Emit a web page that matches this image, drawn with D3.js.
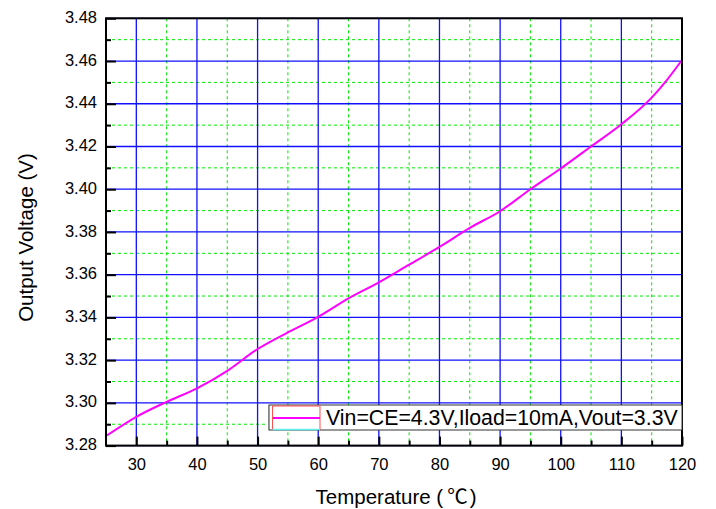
<!DOCTYPE html>
<html><head><meta charset="utf-8">
<script src="https://cdn.jsdelivr.net/npm/d3@7"></script>
<style>
body{margin:0;background:#fff;}
text{font-family:"Liberation Sans",Arial,"Noto Sans CJK SC",sans-serif;fill:#000;}
</style></head>
<body><svg id="c" width="716" height="509"></svg>
<script>
const temps = [25,30,35,40,45,50,55,60,65,70,75,80,85,90,95,100,105,110,115,117.5,120];
const vout  = [3.2845,3.2935,3.3005,3.3068,3.3150,3.3252,3.3330,3.3403,3.3489,3.3564,3.3647,3.3730,3.3819,3.3897,3.4000,3.4097,3.4200,3.4304,3.4429,3.4511,3.4605];
const xMajor = [30,40,50,60,70,80,90,100,110,120];
const xMinor = [35,45,55,65,75,85,95,105,115];
const yMajor = [3.28,3.30,3.32,3.34,3.36,3.38,3.40,3.42,3.44,3.46,3.48];
const yMinor = [3.29,3.31,3.33,3.35,3.37,3.39,3.41,3.43,3.45,3.47];
const legendLabel = "Vin=CE=4.3V,Iload=10mA,Vout=3.3V";
const xTitleMain = "Temperature (";
const xTitleUnit = "\u2103";
const xTitleEnd = ")";
const yTitle = "Output Voltage (V)";

const L=106, R=682, T=18.3, B=445.6;
const svg = d3.select("#c");
const x = d3.scaleLinear().domain([25,120]).range([L,R]);
const y = d3.scaleLinear().domain([3.28,3.48]).range([B,T]);

// minor grid
const g = svg.append("g");
g.selectAll(".vm").data(xMinor).join("line")
  .attr("x1",d=>x(d)).attr("x2",d=>x(d)).attr("y1",T).attr("y2",B)
  .attr("stroke","#00e800").attr("stroke-width",1).attr("stroke-dasharray","3,3");
g.selectAll(".hm").data(yMinor).join("line")
  .attr("y1",d=>y(d)).attr("y2",d=>y(d)).attr("x1",L).attr("x2",R)
  .attr("stroke","#00e800").attr("stroke-width",1).attr("stroke-dasharray","3,3");
// major grid
g.selectAll(".vM").data(xMajor).join("line")
  .attr("x1",d=>x(d)).attr("x2",d=>x(d)).attr("y1",T).attr("y2",B)
  .attr("stroke","#1010ff").attr("stroke-width",1.3);
g.selectAll(".hM").data(yMajor).join("line")
  .attr("y1",d=>y(d)).attr("y2",d=>y(d)).attr("x1",L).attr("x2",R)
  .attr("stroke","#1010ff").attr("stroke-width",1.3);

// curve
const line = d3.line().x((d,i)=>x(temps[i])).y(d=>y(d)).curve(d3.curveMonotoneX);
svg.append("path").datum(vout).attr("d",line)
  .attr("fill","none").attr("stroke","#ff00ff").attr("stroke-width",2);

// axes
const yAx = svg.append("g").attr("transform",`translate(${L},0)`)
  .call(d3.axisLeft(y).tickValues(yMajor).tickSize(-10).tickPadding(9).tickFormat(d3.format(".2f")));
const yAxm = svg.append("g").attr("transform",`translate(${L},0)`)
  .call(d3.axisLeft(y).tickValues(yMinor).tickSize(-5).tickFormat(""));
const xAx = svg.append("g").attr("transform",`translate(0,${B})`)
  .call(d3.axisBottom(x).tickValues(xMajor).tickSize(-9).tickPadding(12.5));
const xAxm = svg.append("g").attr("transform",`translate(0,${B})`)
  .call(d3.axisBottom(x).tickValues(xMinor).tickSize(-5).tickFormat(""));
[yAx,yAxm,xAx,xAxm].forEach(a=>{
  a.select(".domain").remove();
  a.selectAll(".tick line").attr("stroke","#000").attr("stroke-width",2);
  a.selectAll(".tick text").attr("font-size","16.5px").attr("font-family",null);
});
yAx.selectAll(".tick text").attr("dy","0.25em");

// frame
svg.append("rect").attr("x",L).attr("y",T).attr("width",R-L).attr("height",B-T)
  .attr("fill","none").attr("stroke","#000").attr("stroke-width",2);

// legend
const lg = svg.append("g");
lg.append("rect").attr("x",269).attr("y",405).attr("width",682-269).attr("height",25)
  .attr("fill","#fff").attr("stroke","#333").attr("stroke-width",1);
lg.append("line").attr("x1",268.5).attr("x2",268.5).attr("y1",405).attr("y2",430).attr("stroke","#888").attr("stroke-width",1);
lg.append("rect").attr("x",272.5).attr("y",406).attr("width",47.5).attr("height",23.5)
  .attr("fill","none").attr("stroke","#ff5050").attr("stroke-width",1);
lg.append("line").attr("x1",272.5).attr("x2",320).attr("y1",429.5).attr("y2",429.5)
  .attr("stroke","#60f0f0").attr("stroke-width",1.5);
lg.append("line").attr("x1",273).attr("x2",320).attr("y1",418).attr("y2",418)
  .attr("stroke","#ff00ff").attr("stroke-width",2);
lg.append("text").attr("x",326).attr("y",425.3).attr("font-size","21.3px").text(legendLabel);

// titles
const xt = svg.append("text").attr("x",396).attr("y",504).attr("text-anchor","middle")
  .attr("font-size","20.5px");
xt.append("tspan").text(xTitleMain);
xt.append("tspan").attr("dx",4).style("font-family","'Noto Sans CJK SC'").text(xTitleUnit);
xt.append("tspan").attr("dx",2).text(xTitleEnd);
svg.append("text").attr("transform","translate(33,237.5) rotate(-90)").attr("text-anchor","middle")
  .attr("font-size","20.5px").text(yTitle);
</script></body></html>
